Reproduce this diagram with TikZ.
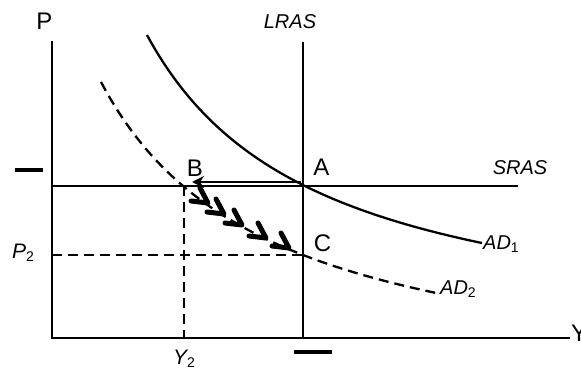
\documentclass[tikz,border=0pt]{standalone}
\usepackage{fontspec}
\setmainfont{Liberation Sans}
\usetikzlibrary{arrows.meta}
\newcommand\sbs[1]{\raisebox{-0.35ex}{\fontsize{14}{14}\selectfont\upshape #1}}
\begin{document}
\begin{tikzpicture}[x=1pt,y=-1pt,
  axis/.style={line width=2.6pt},
  curve/.style={line width=2.3pt},
  dashedline/.style={line width=2.3pt, dash pattern=on 10pt off 6pt},
  chev/.style={line width=5pt, line cap=round, line join=round},
  tick/.style={line width=3.6pt},
  lbl/.style={inner sep=0pt, font=\fontsize{24}{24}\selectfont},
  ilbl/.style={inner sep=0pt, font=\fontsize{20}{20}\selectfont\itshape}]
\useasboundingbox (0,0) rectangle (581,372);
% coordinates
\coordinate (O) at (52,338);
\coordinate (ytop) at (52,41);
\coordinate (xend) at (570,338);
\coordinate (ltop) at (303,42);
\coordinate (lbot) at (303,338);
\coordinate (sl) at (52,186);
\coordinate (sr) at (518,186);
\coordinate (arrA) at (301,182);
\coordinate (arrB) at (192,182);
\coordinate (p2l) at (52,255);
\coordinate (p2r) at (303,255);
\coordinate (y2t) at (184,186);
\coordinate (y2b) at (184,338);
\coordinate (tl1) at (15,170);
\coordinate (tl2) at (43,170);
\coordinate (tb1) at (294,352);
\coordinate (tb2) at (332,352);
% axes
\draw[axis] (ytop) -- (O) -- (xend);
% LRAS and SRAS
\draw[curve] (ltop) -- (lbot);
\draw[curve] (sl) -- (sr);
% dashed guides
\draw[dashedline] (p2l) -- (p2r);
\draw[dashedline] (y2t) -- (y2b);
% AD curves
\draw[curve] plot[domain=147:482, samples=90] (\x, {348.7-533.85/((\x+23.2)/100)});
\draw[dashedline] plot[domain=101:439, samples=90] (\x, {398.4-530.03/((\x+66.5)/100)});
% arrow A to B
\draw[line width=2.6pt, -{Stealth[length=12pt,width=12pt,inset=4pt]}] (arrA) -- (arrB);
% chevrons B to C
\foreach \tx/\ty in {208/203, 224/214, 242/225, 266/238, 289/248}
  \draw[chev] ({\tx-17},{\ty-2}) -- (\tx,\ty) -- ({\tx-8},{\ty-15});
% tick marks
\draw[tick] (tl1) -- (tl2);
\draw[tick] (tb1) -- (tb2);
% labels
\node[lbl] (P) at (44.5,21) {P};
\node[ilbl] (LRAS) at (290,21.5) {LRAS};
\node[ilbl] (SRAS) at (520,167.5) {SRAS};
\node[lbl] (A) at (321.5,167.5) {A};
\node[lbl] (B) at (195,168.5) {B};
\node[lbl] (C) at (322.5,243.5) {C};
\node[ilbl, anchor=base west] (AD1) at (483,249) {AD\sbs{1}};
\node[ilbl, anchor=base west] (AD2) at (440,294) {AD\sbs{2}};
\node[ilbl, anchor=base west, font=\fontsize{21}{21}\selectfont\itshape] (P2) at (12,258) {P\sbs{2}};
\node[ilbl, anchor=base west, font=\fontsize{21}{21}\selectfont\itshape] (Y2) at (173,364) {Y\sbs{2}};
\node[lbl, anchor=west] (Y) at (571,333) {Y};
\end{tikzpicture}
\end{document}
